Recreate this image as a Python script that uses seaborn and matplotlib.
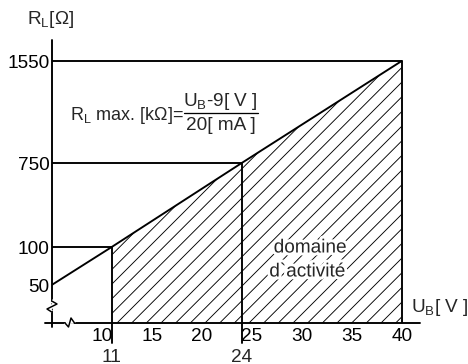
import numpy as np
import pandas as pd
import matplotlib
matplotlib.use("Agg")
import matplotlib.pyplot as plt
import matplotlib.patheffects as pe
import seaborn as sns

# data: R_L max = (U_B - 9 V) / 20 mA
u_line = [5, 11, 24, 40]
r_line = [50, 100, 750, 1550]
x_ticks = [10, 15, 20, 25, 30, 35, 40]
x_marks = [11, 24]
y_ticks = [50, 100, 750, 1550]

# schematic (broken) y axis: value -> pixel height above the x axis
y_vals = [0, 50, 100, 750, 1550, 2500]
y_pix = [0, 38, 76, 160, 262, 262 + 950 * 0.1275]

DPI = 88
W, H = 468, 364


def pt(px):
    return px * 72.0 / DPI


def fwd(v):
    return np.interp(v, y_vals, y_pix)


def inv(p):
    return np.interp(p, y_pix, y_vals)


sns.set_style("white")
plt.rcParams['font.family'] = ['Liberation Sans', 'DejaVu Sans']
plt.rcParams['mathtext.fontset'] = 'custom'
plt.rcParams['mathtext.rm'] = 'Liberation Sans'
plt.rcParams['hatch.linewidth'] = pt(0.9)

fig = plt.figure(figsize=(W / DPI, H / DPI), dpi=DPI)
# axes from x=51.7px (U=5) to 420px, y from 323px (bottom) to 40px
ax = fig.add_axes([51.7 / W, (H - 323) / H, (420 - 51.7) / W, (323 - 40) / H])
ax.set_yscale('function', functions=(fwd, inv))
ax.set_xlim(5, 5 + (420 - 51.7) / 10.0)
ax.set_ylim(0, inv(283))

df = pd.DataFrame({'U': u_line, 'R': r_line})
lw = pt(1.9)
k = 'black'

# hatched working region
ax.fill_between(u_line[1:], 0, r_line[1:], facecolor='none', edgecolor=k,
                hatch='//', linewidth=0)
sns.lineplot(data=df, x='U', y='R', ax=ax, color=k, linewidth=lw)

# guide lines
for u, r in zip(u_line[1:], r_line[1:]):
    ax.plot([5, u], [r, r], color=k, lw=lw, solid_capstyle='butt')
ax.plot([40, 40], [0, 1550], color=k, lw=lw)
for u in x_marks:
    r = r_line[u_line.index(u)]
    ax.plot([u, u], [0, r], color=k, lw=lw)
    # extend below the axis
    ax.plot([u, u], [-20 / 283, 0], color=k, lw=lw, clip_on=False,
            transform=ax.get_xaxis_transform())
    ax.annotate(str(u), (u, 0), xycoords=('data', 'axes fraction'),
                xytext=(0, -pt(34)), textcoords='offset points',
                ha='center', va='center', fontsize=pt(19))

for s in ax.spines.values():
    s.set_visible(False)

# axes drawn as lines so they overhang a little
ax.plot([(45 - 51.7) / 368.3, 1], [0, 0], color=k, lw=lw, clip_on=False,
        transform=ax.transAxes)
ax.plot([0, 0], [-4 / 283, 1], color=k, lw=lw, clip_on=False,
        transform=ax.transAxes)


# axis breaks
def brk(xs, ys):
    xs = [(x - 51.7) / 368.3 for x in xs]
    ys = [(323 - y) / 283 for y in ys]
    ax.plot(xs, ys, color='white', lw=pt(4.5), clip_on=False,
            transform=ax.transAxes, solid_capstyle='butt')
    ax.plot(xs, ys, color=k, lw=pt(1.5), clip_on=False,
            transform=ax.transAxes)


brk([51.7, 57, 47, 51.7], [301, 304, 309, 312])
brk([65, 68.5, 71, 74.5], [323, 327, 318, 323])

ax.set_xticks(x_ticks)
ax.set_yticks(y_ticks)
ax.set_yticklabels([str(v) for v in y_ticks])
ax.tick_params(axis='both', direction='inout', length=pt(10), width=lw,
               colors=k, labelsize=pt(19), pad=pt(0))
ax.tick_params(axis='y', pad=pt(-3))
ax.minorticks_off()
ax.set_xlabel('')
ax.set_ylabel('')


def fp(x, y):
    return x / W, 1 - y / H


fs = pt(19)
fig.text(*fp(27, 20), r'R$_\mathregular{L}$[Ω]', fontsize=fs, va='center')
fig.text(*fp(411, 308), r'U$_\mathregular{B}$[ V ]', fontsize=fs, va='center')
fig.text(*fp(70, 115), r'R$_\mathregular{L}$ max. [kΩ]=', fontsize=pt(18),
         va='center')
fig.text(*fp(220, 101), r'U$_\mathregular{B}$-9[ V ]', fontsize=fs,
         va='center', ha='center')
fig.text(*fp(221, 125), '20[ mA ]', fontsize=fs, va='center', ha='center')
fig.add_artist(plt.Line2D([184 / W, 258 / W], [1 - 113 / H, 1 - 113 / H],
                          color=k, lw=pt(1.3)))

halo = [pe.withStroke(linewidth=pt(6), foreground='white')]
fig.text(*fp(310, 248), 'domaine', fontsize=fs, ha='center', va='center',
         path_effects=halo)
fig.text(*fp(307, 272), 'd`activité', fontsize=fs, ha='center', va='center',
         path_effects=halo)

fig.savefig('out.png', dpi=DPI)
